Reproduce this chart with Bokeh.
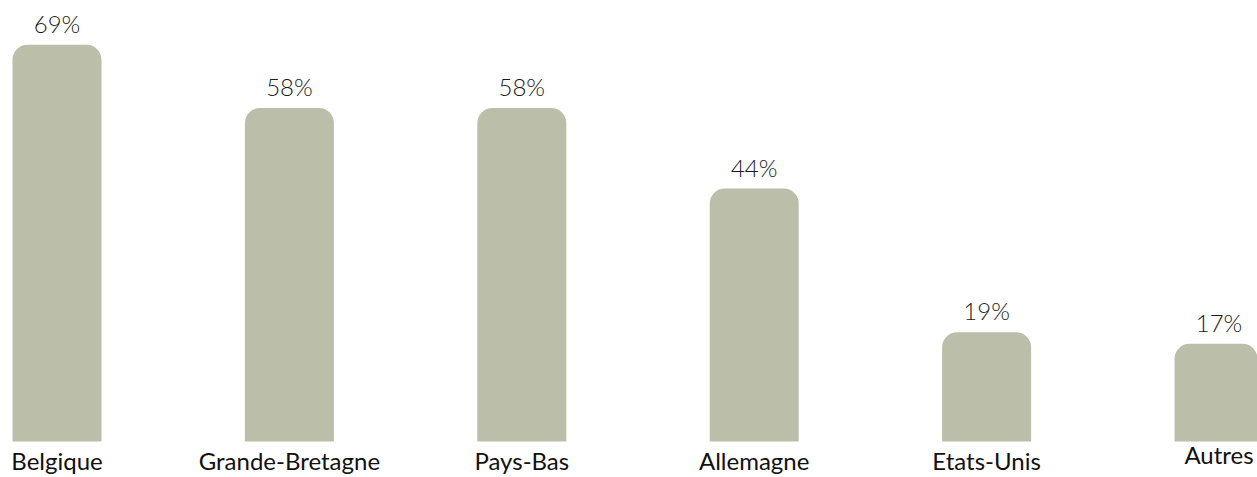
from bokeh.plotting import figure
from bokeh.models import ColumnDataSource, Range1d
from bokeh.core.properties import value
from bokeh.embed import file_html
from bokeh.resources import INLINE

categories = ["Belgique", "Grande-Bretagne", "Pays-Bas", "Allemagne", "Etats-Unis", "Autres"]
values = [69, 58, 58, 44, 19, 17]
labels = ["69%", "58%", "58%", "44%", "19%", "17%"]

xs = list(range(len(categories)))
cat_offsets = [4, 4, 4, 4, 4, -2]

src = ColumnDataSource(dict(x=xs, top=values, lab=labels, cat=categories, coff=cat_offsets))

W, H = 1257, 477
ppu = 232.4
x0 = -56.5 / ppu
ypp = 5.75
y0 = -36 / ypp

p = figure(width=W, height=H, output_backend="svg", toolbar_location=None,
           x_range=Range1d(x0, x0 + W / ppu), y_range=Range1d(y0, y0 + H / ypp),
           min_border=0, outline_line_color=None)
p.axis.visible = False
p.grid.visible = False
p.background_fill_color = "white"
p.border_fill_color = "white"

p.vbar(x="x", top="top", bottom=0, width=89 / ppu, source=src,
       fill_color="#BBBFA9", line_color=None, border_radius=(15, 15, 0, 0))

p.text(x="x", y="top", text="lab", source=src, text_align="center", text_baseline="bottom",
       y_offset=-7, text_font=value("Lato Light"), text_font_size="24px", text_color="#1a1a1a")

p.text(x="x", y=0, text="cat", source=src, text_align="center", text_baseline="top",
       y_offset="coff", text_font=value("Lato"), text_font_size="24px", text_color="#111111")

open("out.html", "w").write(file_html(p, INLINE))
